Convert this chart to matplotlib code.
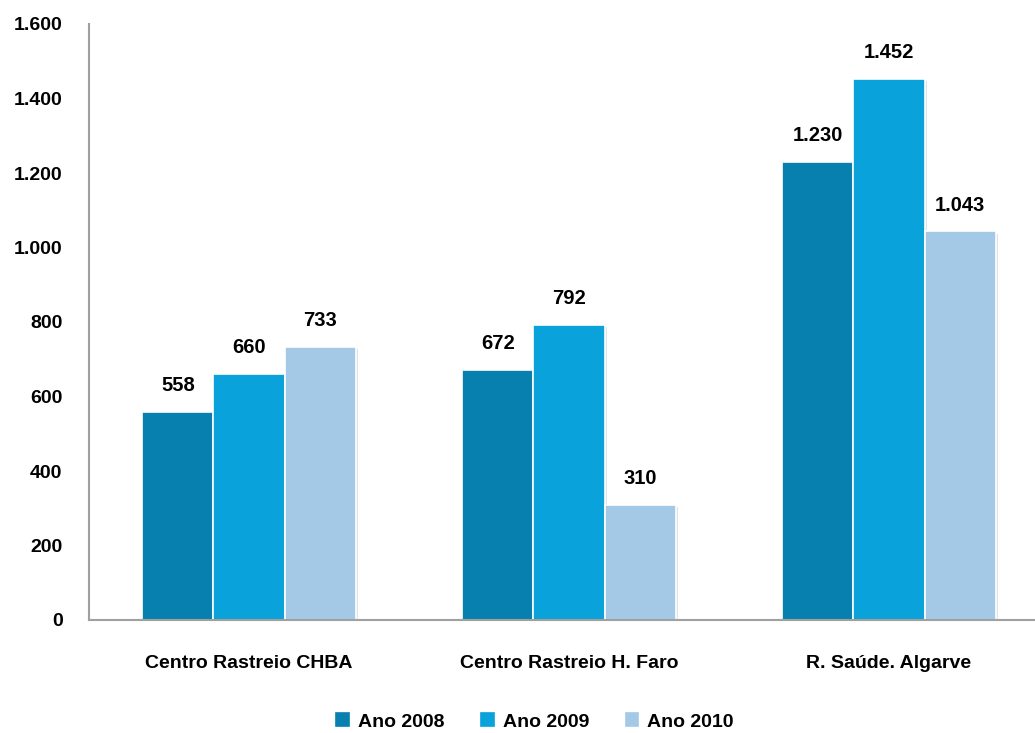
import numpy as np
import matplotlib.pyplot as plt
import matplotlib.patheffects as pe

categories = ['Centro Rastreio CHBA', 'Centro Rastreio H. Faro', 'R. Saúde. Algarve']
series_names = ['Ano 2008', 'Ano 2009', 'Ano 2010']
values_2008 = [558, 672, 1230]
values_2009 = [660, 792, 1452]
values_2010 = [733, 310, 1043]
y_ticks = [0, 200, 400, 600, 800, 1000, 1200, 1400, 1600]

colors = ['#0780B0', '#09A2DB', '#A3C9E7']


def fmt_pt(v):
    # thousands separator as a dot
    return f'{v:,}'.replace(',', '.')


plt.rcParams['font.family'] = ['Liberation Sans', 'DejaVu Sans']
plt.rcParams['font.weight'] = 'bold'

fig = plt.figure(figsize=(10.35, 7.33), dpi=100)
ax = fig.add_axes([89 / 1035, 1 - 620 / 733, 960 / 1035, 596 / 733])

x = np.arange(len(categories))
width = 0.222
shadow = [pe.SimplePatchShadow(offset=(2, -1.5), shadow_rgbFace='#aaaaaa', alpha=0.35), pe.Normal()]

for i, (name, vals) in enumerate(zip(series_names, [values_2008, values_2009, values_2010])):
    pos = x + (i - 1) * width
    bars = ax.bar(pos, vals, width=width, color=colors[i], edgecolor='white',
                  linewidth=1.2, label=name, zorder=2)
    for b in bars:
        b.set_path_effects(shadow)
    for p, v in zip(pos, vals):
        ax.annotate(fmt_pt(v), (p, v), xytext=(0, 12), textcoords='offset points',
                    ha='center', va='bottom', fontsize=14.5, fontweight='bold')

ax.set_xlim(-0.5, 2.5)
ax.set_ylim(0, 1600)
ax.set_yticks(y_ticks)
ax.set_yticklabels([fmt_pt(t) for t in y_ticks], fontsize=14, fontweight='bold')
ax.set_xticks(x)
ax.set_xticklabels(categories, fontsize=14, fontweight='bold')
ax.tick_params(axis='y', length=0, pad=19)
ax.tick_params(axis='x', length=0, pad=25)

for s in ['top', 'right']:
    ax.spines[s].set_visible(False)
for s in ['left', 'bottom']:
    ax.spines[s].set_color('#A0A0A0')
    ax.spines[s].set_linewidth(1.5)

leg = ax.legend(loc='center', bbox_to_anchor=(535 / 1035, 1 - 722 / 733), bbox_transform=fig.transFigure,
                ncol=3, frameon=False, handlelength=0.65, handleheight=0.65, handletextpad=0.45,
                columnspacing=1.9, prop={'size': 14, 'weight': 'bold'})
for h in leg.legend_handles:
    h.set_path_effects([])
    h.set_edgecolor(h.get_facecolor())

fig.savefig('out.png', dpi=100)
